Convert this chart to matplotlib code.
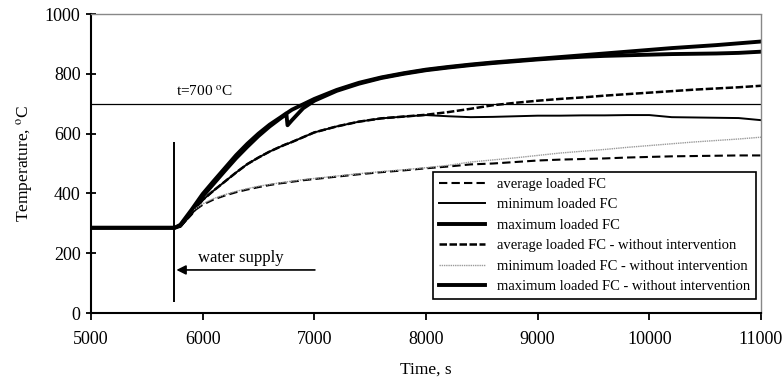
import numpy as np
from matplotlib import pyplot as plt

# time grid, s
time = [5000, 5200, 5400, 5600, 5750, 5800, 5900, 6000, 6100, 6200, 6300, 6400,
        6500, 6600, 6700, 6750, 6760, 6800, 6900, 7000, 7200, 7400, 7600, 7800,
        8000, 8200, 8400, 8600, 8800, 9000, 9200, 9400, 9600, 9800, 10000,
        10200, 10400, 10600, 10800, 11000]

# temperatures, deg C
max_without = [285, 285, 285, 285, 285, 295, 345, 398, 442, 485, 528, 566,
               600, 630, 655, 668, 670, 680, 698, 716, 746, 770, 788, 802,
               814, 823, 831, 838, 844, 850, 856, 862, 868, 874, 880,
               886, 891, 896, 902, 908]
max_loaded = [285, 285, 285, 285, 285, 292, 338, 390, 433, 476, 518, 556,
              592, 624, 652, 665, 628, 645, 685, 710, 743, 767, 786, 800,
              812, 821, 829, 836, 842, 848, 853, 857, 860, 862, 864,
              866, 867, 868, 870, 874]
avg_without = [285, 285, 285, 285, 285, 290, 330, 378, 410, 440, 470, 498,
               520, 540, 557, 565, 566, 572, 588, 604, 624, 640, 651, 657,
               663, 672, 683, 695, 703, 710, 716, 721, 727, 732, 737,
               742, 747, 751, 755, 760]
min_loaded = [285, 285, 285, 285, 285, 290, 330, 378, 410, 440, 470, 498,
              520, 540, 557, 565, 566, 572, 588, 604, 624, 640, 651, 657,
              662, 658, 655, 656, 658, 660, 660, 661, 661, 662, 662,
              655, 654, 653, 652, 645]
min_without = [285, 285, 285, 285, 285, 290, 340, 365, 383, 396, 407, 416,
               424, 430, 436, 438, 439, 441, 446, 450, 458, 466, 473, 479,
               486, 494, 505, 512, 519, 527, 535, 541, 547, 554, 560,
               566, 572, 577, 582, 588]
avg_loaded = [285, 285, 285, 285, 285, 288, 336, 362, 380, 393, 404, 413,
              421, 428, 434, 436, 437, 439, 444, 448, 456, 464, 471, 477,
              484, 490, 497, 500, 505, 510, 513, 515, 517, 520, 522,
              524, 525, 526, 527, 527]

water_supply_time = 5740
limit_temp = 700

plt.rcParams['font.family'] = ['Liberation Serif', 'DejaVu Serif']
plt.rcParams['mathtext.fontset'] = 'stix'

fig = plt.figure(figsize=(7.83, 3.86), dpi=100)
ax = fig.add_axes([0.1162, 0.1891, 0.8557, 0.7746])

ax.plot(time, avg_loaded, color='black', lw=1.5, ls=(0, (4, 2)), label='average loaded FC')
ax.plot(time, min_loaded, color='black', lw=1.4, label='minimum loaded FC')
ax.plot(time, max_loaded, color='black', lw=2.8, label='maximum loaded FC')
ax.plot(time, avg_without, color='black', lw=1.8, ls=(0, (3, 1)),
        label='average loaded FC - without intervention')
ax.plot(time, min_without, color='#9a9a9a', lw=1.0, ls=(0, (1, 0.6)),
        label='minimum loaded FC - without intervention')
ax.plot(time, max_without, color='black', lw=2.8,
        label='maximum loaded FC - without intervention')

# limit temperature and water supply marker
ax.axhline(limit_temp, color='black', lw=0.9)
ax.text(5760, 739, r't=700 $^{\mathrm{o}}$C', fontsize=11, va='center', ha='left')
ax.vlines(water_supply_time, 37, 572, color='black', lw=1.4)
ax.annotate('', xy=(water_supply_time, 144), xytext=(7030, 144),
            arrowprops=dict(arrowstyle='-|>', color='black', lw=1.2, mutation_scale=14))
ax.text(5960, 184, 'water supply', fontsize=12, va='center', ha='left')

ax.set_xlim(5000, 11000)
ax.set_ylim(0, 1000)
ax.set_xticks(range(5000, 11001, 1000))
ax.set_yticks(range(0, 1001, 200))
ax.tick_params(axis='both', labelsize=13, colors='black')
ax.tick_params(axis='x', direction='out', length=5, width=1.3, pad=8)
ax.tick_params(axis='y', direction='inout', length=7, width=1.3, pad=4)

ax.spines['left'].set_linewidth(1.5)
ax.spines['bottom'].set_linewidth(1.5)
for side in ['top', 'right']:
    ax.spines[side].set_color('#888888')
    ax.spines[side].set_linestyle((0, (1, 1)))
    ax.spines[side].set_linewidth(1.0)

ax.set_xlabel('Time, s', fontsize=12.5, labelpad=10)
ax.set_ylabel(r'Temperature, $^{\mathrm{o}}$C', fontsize=12.5, labelpad=7)

leg = ax.legend(loc='upper left', bbox_to_anchor=(0.51, 0.472), fontsize=10.5,
                handlelength=3.2, labelspacing=0.5, borderpad=0.4,
                fancybox=False, framealpha=1, edgecolor='black', borderaxespad=0)
leg.get_frame().set_linewidth(1.2)

fig.savefig('out.png', dpi=100)
